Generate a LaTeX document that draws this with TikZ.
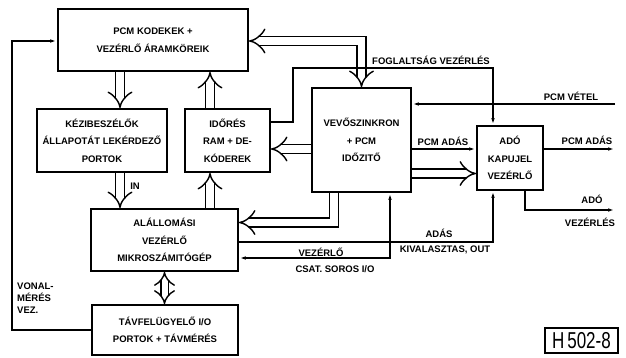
\documentclass[tikz,border=0pt]{standalone}
\usepackage{fontspec}
\setmainfont{Liberation Sans}
\usetikzlibrary{positioning,arrows.meta,calc}
\tikzset{
  blk/.style ={rectangle, draw=black, line width=1.8pt, fill=white, align=center,
               font=\fontsize{9.5}{17.5}\selectfont\bfseries, inner sep=2pt},
  lbl/.style ={font=\fontsize{9.5}{12}\selectfont\bfseries, inner sep=1pt},
  sig/.style ={line width=1.4pt, -{Latex[length=7pt,width=3.5pt]}},
  sigb/.style={sig, {Latex[length=7pt,width=3.5pt]}-{Latex[length=7pt,width=3.5pt]}},
  dbl/.style ={double, double distance=7.5pt, line width=1.4pt, -{Implies[scale=1.25]}},
  dblb/.style={dbl, {Implies}-{Implies}},
  dblbs/.style={dbl, double distance=6pt, {Implies[scale=0.75]}-{Implies[scale=0.75]}}
}
\begin{document}
\begin{tikzpicture}[x=1pt, y=-1pt]
  \useasboundingbox (0,0) rectangle (626,358);
  \node[blk, minimum width=190pt, minimum height=62pt] (pcm) at (153,40) {PCM KODEKEK +\\VEZÉRLŐ ÁRAMKÖREIK};
  \node[blk, minimum width=130pt, minimum height=63pt] (kez) at (102,140.5) {KÉZIBESZÉLŐK\\ÁLLAPOTÁT LEKÉRDEZŐ\\PORTOK};
  \node[blk, minimum width=85pt, minimum height=63pt] (ido) at (227.5,140.5) {IDŐRÉS\\RAM + DE-\\KÓDEREK};
  \node[blk, minimum width=147pt, minimum height=62pt] (mik) at (164.5,240) {ALÁLLOMÁSI\\VEZÉRLŐ\\MIKROSZÁMITÓGÉP};
  \node[blk, minimum width=146pt, minimum height=50pt] (tav) at (165,330) {TÁVFELÜGYELŐ I/O\\PORTOK + TÁVMÉRÉS};
  \node[blk, minimum width=99pt, minimum height=104pt] (vevo) at (361.5,140) {VEVŐSZINKRON\\+ PCM\\IDŐZITŐ};
  \node[blk, minimum width=66pt, minimum height=64pt] (ado) at (510,158) {ADÓ\\KAPUJEL\\VEZÉRLŐ};
  \node[draw, line width=1.6pt, minimum width=73pt, minimum height=25pt, inner sep=0pt,
        font=\fontsize{23}{23}\selectfont] (kod) at (581.5,340.5) {\scalebox{0.74}[1]{H\,502-8}};

  \draw[dbl] ([xshift=-33pt]pcm.south) -- ([xshift=-33pt]pcm.south |- kez.north);
  \draw[dbl] ([xshift=-17.5pt]ido.north) -- ([xshift=-17.5pt]ido.north |- pcm.south);
  \draw[dbl] ([xshift=18pt]kez.south) -- ([xshift=18pt]kez.south |- mik.north);
  \draw[dbl] ([xshift=45.5pt]mik.north) -- ([xshift=45.5pt]mik.north |- ido.south);
  \draw[dblbs] (mik.south) -- (mik.south |- tav.north);
  \draw[dblb] ([yshift=-1pt]pcm.east) -| (vevo.north);
  \draw[dbl] ([yshift=-9pt]vevo.west) -- ([yshift=-9pt]vevo.west -| ido.east);
  \draw[dbl] ([xshift=-27.5pt]vevo.south) |- ([yshift=17.5pt]mik.east);
  \draw[dbl] ([yshift=-33.5pt]vevo.east) -- ([yshift=-33.5pt]vevo.east -| ado.west);

  \draw[sig] (tav.west) -- ++(-79,0) |- ([yshift=-1pt]pcm.west);
  \draw[sig] ([yshift=18.5pt]ido.east) -- ++(22,0) -- ++(0,-54) -| ([xshift=-17pt]ado.north);
  \coordinate (vetel) at (615,104);
  \draw[sig] (vetel) -- (vetel -| vevo.east);
  \draw[sig] ([yshift=-9pt]vevo.east) -- ([yshift=-9pt]vevo.east -| ado.west);
  \coordinate (adasout) at (615,149);
  \draw[sig] (adasout -| ado.east) -- (adasout);
  \coordinate (adovez) at (615,210);
  \draw[sig] ([xshift=15pt]ado.south) |- (adovez);
  \draw[sig] ([yshift=-2pt]mik.east) -| ([xshift=-17pt]ado.south);
  \draw[sigb] ([xshift=28.5pt]vevo.south) |- ([yshift=-18pt]mik.east);

  \node[lbl] (lin) at (135,186) {IN};
  \node[lbl, align=left, anchor=north west] (lvon) at (16,282) {VONAL-\\MÉRÉS\\VEZ.};
  \node[lbl] (lfog) at (431,60) {FOGLALTSÁG VEZÉRLÉS};
  \node[lbl] (lvet) at (571,96) {PCM VÉTEL};
  \node[lbl] (lpadas) at (443,141) {PCM ADÁS};
  \node[lbl] (lpadas2) at (587,140) {PCM ADÁS};
  \node[lbl] (lado) at (592,199) {ADÓ};
  \node[lbl] (lvez) at (590,222) {VEZÉRLÉS};
  \node[lbl] (ladas) at (439,233) {ADÁS};
  \node[lbl] (lkiv) at (445,250) {KIVALASZTAS, OUT};
  \node[lbl] (lvez2) at (321,252) {VEZÉRLŐ};
  \node[lbl] (lcsat) at (335,269) {CSAT. SOROS I/O};
\end{tikzpicture}
\end{document}
